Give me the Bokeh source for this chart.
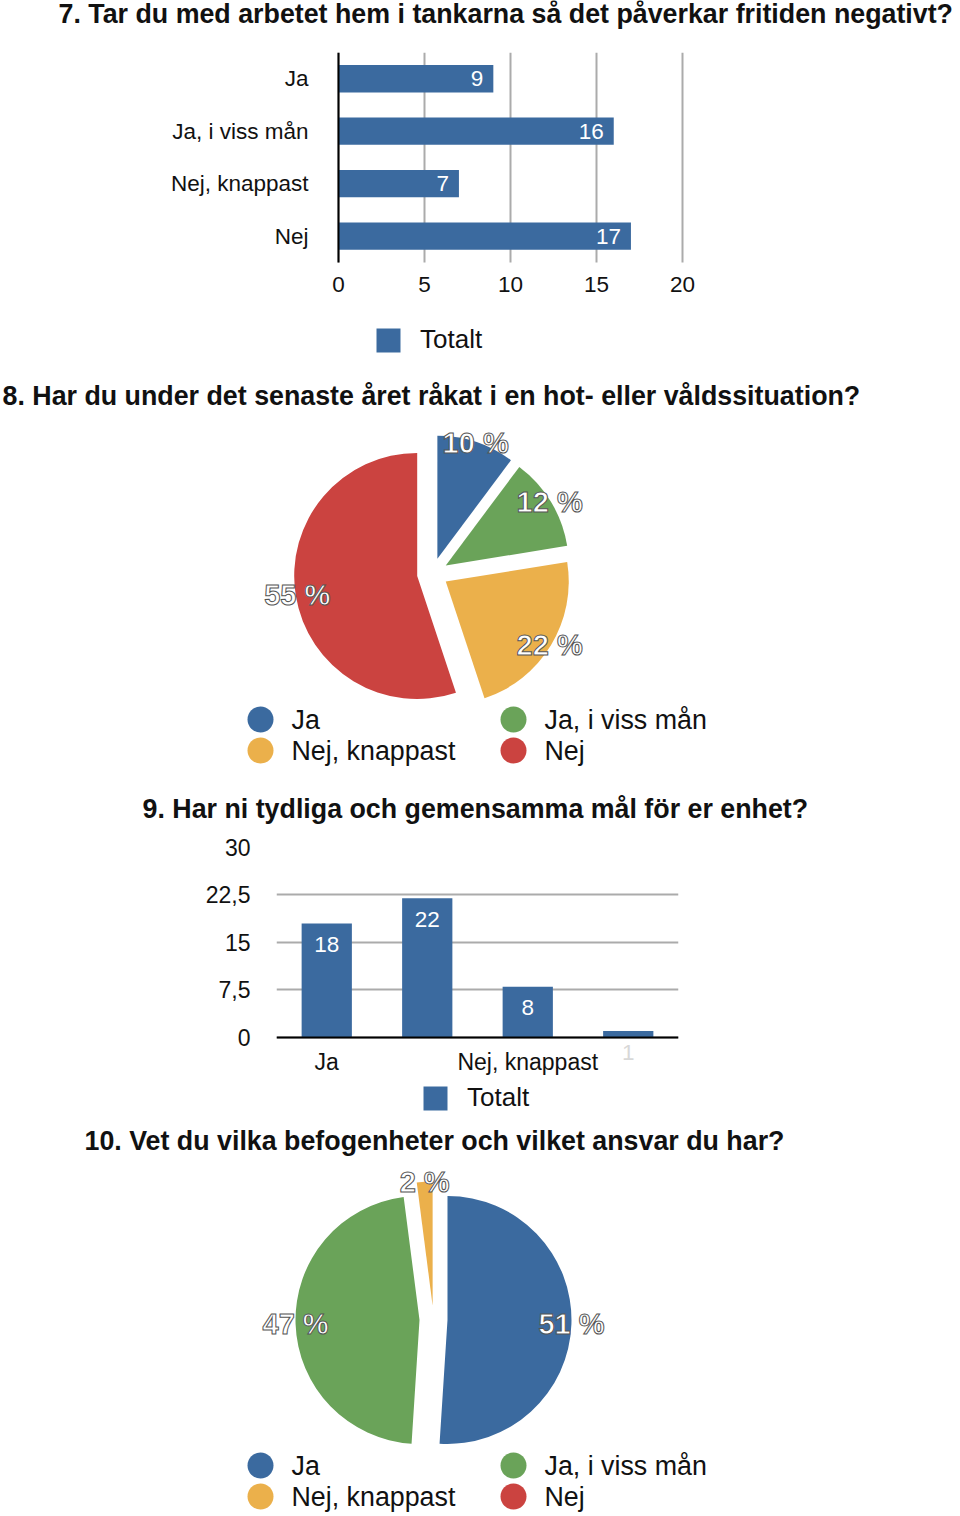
import math
from bokeh.plotting import figure
from bokeh.layouts import column
from bokeh.models import (ColumnDataSource, Range1d, FixedTicker,
                          LabelSet, Legend, LegendItem)
from bokeh.core.properties import value
from bokeh.embed import file_html
from bokeh.resources import INLINE

# ---------------- data ----------------
q7_title = "7. Tar du med arbetet hem i tankarna så det påverkar fritiden negativt?"
q7_categories = ["Ja", "Ja, i viss mån", "Nej, knappast", "Nej"]
q7_values = [9, 16, 7, 17]
q7_ticks = [0, 5, 10, 15, 20]

q8_title = "8. Har du under det senaste året råkat i en hot- eller våldssituation?"
q8_categories = ["Ja", "Ja, i viss mån", "Nej, knappast", "Nej"]
q8_counts = [5, 6, 11, 27]

q9_title = "9. Har ni tydliga och gemensamma mål för er enhet?"
q9_categories = ["Ja", "Ja, i viss mån", "Nej, knappast", "Nej"]
q9_values = [18, 22, 8, 1]
q9_ticks = [0, 7.5, 15, 22.5, 30]
q9_tick_labels = ["0", "7,5", "15", "22,5", "30"]
q9_shown_labels = ["Ja", "", "Nej, knappast", ""]

q10_title = "10. Vet du vilka befogenheter och vilket ansvar du har?"
q10_categories = ["Ja", "Ja, i viss mån", "Nej, knappast", "Nej"]
q10_counts = [25, 23, 1, 0]

series_name = "Totalt"

# ---------------- style ----------------
FONT = "Liberation Sans"
BLUE = "#3b6a9f"
GREEN = "#6aa359"
ORANGE = "#ebb04b"
RED = "#cb4340"
pie_colors = [BLUE, GREEN, ORANGE, RED]
GRID = "#ababab"
TXT = "#111111"
W = 960
TITLE_SIZE = "26.8px"


def blank(h):
    p = figure(width=W, height=h, x_range=Range1d(0, W), y_range=Range1d(0, h),
               output_backend="svg", toolbar_location=None, min_border=0,
               x_axis_location=None, y_axis_location=None, frame_align=False,
               frame_width=W, frame_height=h)
    p.xgrid.visible = False
    p.ygrid.visible = False
    p.outline_line_color = None
    return p


def title(p, h, text, x_left, y_top):
    p.text(x=[x_left], y=[h - y_top], text=[text], text_font=value(FONT),
           text_font_style="bold", text_font_size=TITLE_SIZE, text_color=TXT,
           text_align="left", text_baseline="middle")


def pie(p, h, cats, counts, cx, cy_top, R, d, rl, leg_row0):
    cy = h - cy_top
    total = sum(counts)
    data = dict(x=[], y=[], a0=[], a1=[], col=[], lx=[], ly=[], lab=[])
    cum = 0
    for c, col in zip(counts, pie_colors):
        if c == 0:
            continue
        a0 = math.pi / 2 - 2 * math.pi * cum / total
        a1 = math.pi / 2 - 2 * math.pi * (cum + c) / total
        mid = (a0 + a1) / 2
        data["x"].append(cx + d * math.cos(mid))
        data["y"].append(cy + d * math.sin(mid))
        data["a0"].append(a0)
        data["a1"].append(a1)
        data["col"].append(col)
        data["lx"].append(cx + rl * math.cos(mid))
        data["ly"].append(cy + rl * math.sin(mid))
        data["lab"].append(f"{round(100 * c / total)} %")
        cum += c
    src = ColumnDataSource(data)
    p.wedge(x="x", y="y", radius=R, start_angle="a0", end_angle="a1",
            direction="clock", fill_color="col", line_color=None, source=src)
    p.text(x="lx", y="ly", text="lab", source=src, text_font=value(FONT),
           text_font_style="bold", text_font_size="29px", text_color="white",
           text_outline_color="#555555",
           text_align="center", text_baseline="middle")
    # legend (2 columns, row-major)
    lg = dict(x=[], y=[], tx=[], cat=[], col=[])
    for i, (cat, col) in enumerate(zip(cats, pie_colors)):
        x = 260 + (i % 2) * 253
        y = h - (leg_row0 + (i // 2) * 31)
        lg["x"].append(x)
        lg["y"].append(y)
        lg["tx"].append(x + 31)
        lg["cat"].append(cat)
        lg["col"].append(col)
    ls = ColumnDataSource(lg)
    p.scatter(x="x", y="y", size=26, marker="circle", fill_color="col",
              line_color=None, source=ls)
    p.text(x="tx", y="y", text="cat", source=ls, text_font=value(FONT),
           text_font_size="26.8px", text_color=TXT, text_align="left",
           text_baseline="middle")


# ---------------- title 7 ----------------
hT = 32
pT = blank(hT)
title(pT, hT, q7_title, 58, 13)

# ---------------- chart 7 (horizontal bars) ----------------
h7 = 340
n7 = len(q7_categories)
y7 = [n7 - 1 - i for i in range(n7)]          # first category on top
Y7_LO = -2.37                                   # room below bars for ticks + legend
X7_LO, X7_HI = -10.35, 21.16                    # room left for labels, right for "20"
p7 = figure(width=W, height=h7, y_range=Range1d(Y7_LO, n7 - 0.5),
            x_range=Range1d(X7_LO, X7_HI), output_backend="svg",
            toolbar_location=None, min_border_left=160, min_border_right=258,
            min_border_top=20, min_border_bottom=12, frame_align=False)
p7.outline_line_color = None
src7 = ColumnDataSource(dict(y=y7, cat=q7_categories, val=q7_values,
                             lab=[str(v) for v in q7_values]))
r7 = p7.hbar(y="y", right="val", left=0, height=0.52, source=src7,
             fill_color=BLUE, line_color=None)
p7.xaxis.ticker = FixedTicker(ticks=q7_ticks)
p7.xaxis.fixed_location = -0.5
p7.xgrid.ticker = FixedTicker(ticks=q7_ticks)
p7.xgrid.cross_bounds = (-0.5, n7 - 0.5)
p7.xgrid.grid_line_color = GRID
p7.xgrid.grid_line_width = 2
p7.ygrid.visible = False
p7.xaxis.axis_line_color = None
p7.xaxis.major_tick_line_color = None
p7.xaxis.minor_tick_line_color = None
p7.xaxis.major_tick_out = 0
p7.xaxis.major_label_standoff = 15
p7.xaxis.major_label_text_font = FONT
p7.xaxis.major_label_text_font_size = "22.5px"
p7.xaxis.major_label_text_color = TXT
p7.yaxis.ticker = FixedTicker(ticks=y7)
p7.yaxis.major_label_overrides = dict(zip(y7, q7_categories))
p7.yaxis.fixed_location = 0
p7.yaxis.bounds = (-0.5, n7 - 0.5)
p7.yaxis.axis_line_color = "black"
p7.yaxis.axis_line_width = 2
p7.yaxis.major_tick_line_color = None
p7.yaxis.minor_tick_line_color = None
p7.yaxis.major_tick_out = 0
p7.yaxis.major_label_standoff = 30
p7.yaxis.major_label_text_font = FONT
p7.yaxis.major_label_text_font_size = "22.5px"
p7.yaxis.major_label_text_color = TXT
p7.add_layout(LabelSet(x="val", y="y", text="lab", source=src7, x_offset=-10,
                       text_align="right", text_baseline="middle",
                       text_color="white", text_font=value(FONT),
                       text_font_size="22.5px"))
leg7 = Legend(items=[LegendItem(label=series_name, renderers=[r7])],
              location=(213, 5), glyph_width=30, glyph_height=30,
              label_standoff=17, padding=0, margin=0, border_line_color=None,
              background_fill_alpha=0, label_text_font=FONT,
              label_text_font_size="26px", label_text_color=TXT)
p7.add_layout(leg7)

# ---------------- chart 8 (pie) + title 9 ----------------
h8 = 454
p8 = blank(h8)
title(p8, h8, q8_title, 2, 23)
pie(p8, h8, q8_categories, q8_counts, 432, 201, 123, 15.5, 137, 347)
title(p8, h8, q9_title, 142, 436)

# ---------------- chart 9 (vertical bars) ----------------
h9 = 298
x9 = list(range(len(q9_categories)))
Y9_LO = -12.8  # extra room below the baseline for labels and legend
p9 = figure(width=W, height=h9, x_range=Range1d(-0.5, len(q9_categories) - 0.5),
            y_range=Range1d(Y9_LO, 30), output_backend="svg", toolbar_location=None,
            min_border_left=276, min_border_right=282, min_border_top=21,
            min_border_bottom=6, frame_align=False)
p9.outline_line_color = None
src9 = ColumnDataSource(dict(x=x9, cat=q9_categories, val=q9_values,
                             lab=[str(v) for v in q9_values],
                             col=["white" if v >= 3 else "#d8d8d8" for v in q9_values]))
r9 = p9.vbar(x="x", top="val", width=0.5, source=src9, fill_color=BLUE,
             line_color=None)
p9.yaxis.ticker = FixedTicker(ticks=q9_ticks)
p9.yaxis.major_label_overrides = dict(zip(q9_ticks, q9_tick_labels))
p9.ygrid.ticker = FixedTicker(ticks=q9_ticks)
p9.ygrid.grid_line_color = GRID
p9.ygrid.grid_line_width = 2
p9.xgrid.visible = False
p9.yaxis.axis_line_color = None
p9.yaxis.major_tick_line_color = None
p9.yaxis.minor_tick_line_color = None
p9.yaxis.major_tick_out = 0
p9.yaxis.major_label_standoff = 26
p9.yaxis.major_label_text_font = FONT
p9.yaxis.major_label_text_font_size = "23px"
p9.yaxis.major_label_text_color = TXT
shown = [i for i, s in enumerate(q9_shown_labels) if s]
p9.xaxis.ticker = FixedTicker(ticks=shown)
p9.xaxis.major_label_overrides = {i: q9_shown_labels[i] for i in shown}
p9.xaxis.fixed_location = 0
p9.xaxis.axis_line_color = "black"
p9.xaxis.axis_line_width = 2
p9.xaxis.major_tick_line_color = None
p9.xaxis.minor_tick_line_color = None
p9.xaxis.major_tick_out = 0
p9.xaxis.major_label_standoff = 12
p9.xaxis.major_label_text_font = FONT
p9.xaxis.major_label_text_font_size = "23px"
p9.xaxis.major_label_text_color = TXT
p9.add_layout(LabelSet(x="x", y="val", text="lab", source=src9, y_offset=-21,
                       text_align="center", text_baseline="middle",
                       text_color="col", text_font=value(FONT),
                       text_font_size="22.5px"))
leg9 = Legend(items=[LegendItem(label=series_name, renderers=[r9])],
              location=(144, 5), glyph_width=30, glyph_height=30,
              label_standoff=17, padding=0, margin=0, border_line_color=None,
              background_fill_alpha=0, label_text_font=FONT,
              label_text_font_size="26px", label_text_color=TXT)
p9.add_layout(leg9)

# ---------------- chart 10 (pie) ----------------
h10 = 392
p10 = blank(h10)
title(p10, h10, q10_title, 84, 16)
pie(p10, h10, q10_categories, q10_counts, 433, 195, 124, 14, 138, 341)

layout = column(pT, p7, p8, p9, p10, spacing=0)
open("out.html", "w").write(file_html(layout, INLINE))
